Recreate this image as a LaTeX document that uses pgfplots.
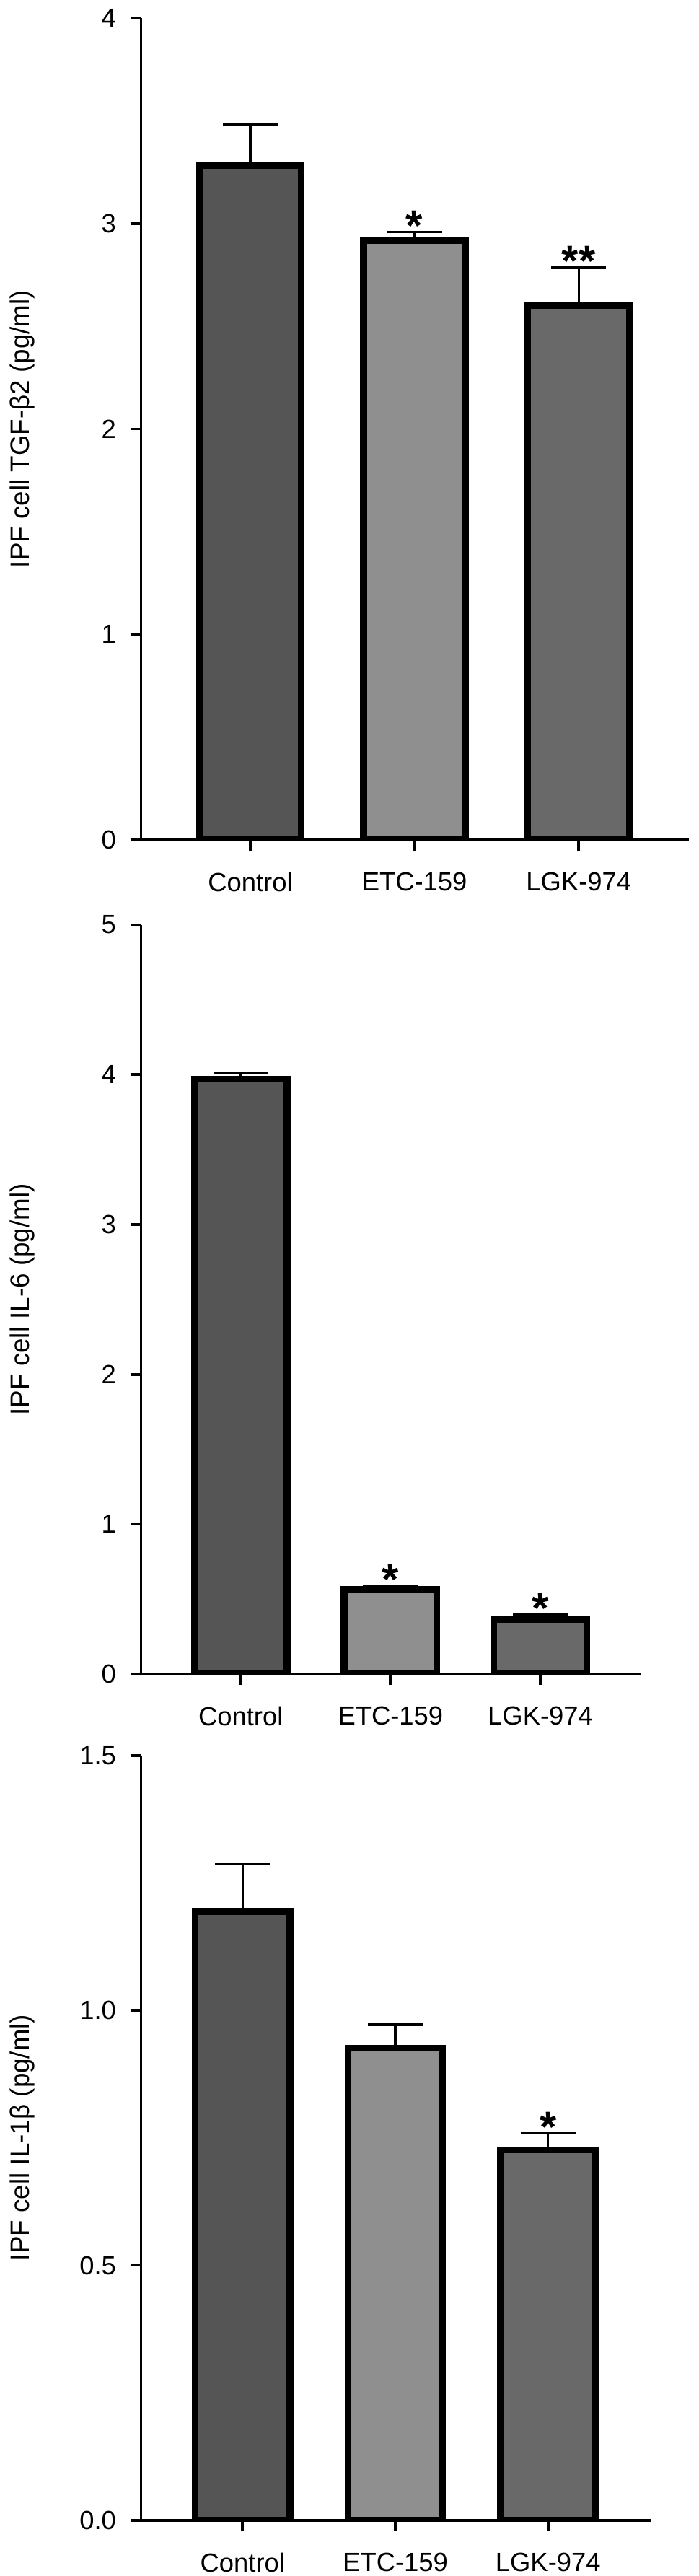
\documentclass[border=0pt]{standalone}
\usepackage{fontspec}
\setmainfont{Liberation Sans}
\usepackage{pgfplots}
\pgfplotsset{compat=1.18}

\definecolor{ctrl}{HTML}{555555}
\definecolor{etc}{HTML}{8F8F8F}
\definecolor{lgk}{HTML}{696969}

\pgfplotsset{
  panel/.style={
    scale only axis,
    anchor=south west,
    axis lines*=left,
    axis line style={line width=0.95pt, -},
    tick align=outside,
    major tick length=3.75pt,
    every tick/.style={black, line width=0.95pt},
    xmin=-0.665, xmax=2.67,
    ymin=0,
    xtick={0,1,2},
    xticklabels={Control,ETC-159,LGK-974},
    tick label style={font=\fontsize{9.1}{11}\selectfont},
    /pgf/number format/assume math mode=true,
    xticklabel style={yshift=-4pt},
    yticklabel style={xshift=-1.4pt},
    every axis y label/.style={at={(axis description cs:0,0.5)}, xshift=-38.75pt,
      rotate=90, anchor=base, font=\fontsize{9.2}{11}\selectfont},
    clip mode=individual,
  },
  gbar/.style={ybar, bar width=0.62, bar shift=0pt, draw=black, line width=2.33pt,
    line join=miter, fill=#1,
    error bars/.cd, y dir=plus, y explicit,
    error bar style={line width=0.8pt, black},
    error mark options={rotate=90, black, line width=0.8pt, mark size=9.5pt}},
  stars/.style={only marks, mark=*, mark size=0pt, mark options={draw=none, fill=none},
    nodes near coords, point meta=explicit symbolic,
    nodes near coords style={anchor=base, yshift=-3pt, inner sep=0pt,
      font=\fontsize{15}{17}\selectfont\bfseries}},
}

\begin{document}
\begin{tikzpicture}
\useasboundingbox (-48.9pt,-601.5pt) rectangle (193.3pt,291pt);

% TGF-beta2
\begin{axis}[panel, at={(0pt,0pt)}, width=189.8pt, height=284.75pt,
  ymax=4, ytick={0,1,2,3,4},
  ylabel={IPF cell TGF-β2 (pg/ml)}]
\addplot[gbar=ctrl] coordinates {(0,3.283) +- (0,0.198)};
\addplot[gbar=etc]  coordinates {(1,2.918) +- (0,0.040)};
\addplot[gbar=lgk]  coordinates {(2,2.600) +- (0,0.185)};
\addplot[stars] coordinates {(1,2.958) [*] (2,2.785) [**]};
\end{axis}

% IL-6
\begin{axis}[panel, at={(0pt,-289pt)}, width=173.15pt, height=259.6pt,
  ymax=5, ytick={0,1,2,3,4,5},
  ylabel={IPF cell IL-6 (pg/ml)}]
\addplot[gbar=ctrl] coordinates {(0,3.970) +- (0,0.045)};
\addplot[gbar=etc]  coordinates {(1,0.565) +- (0,0.025)};
\addplot[gbar=lgk]  coordinates {(2,0.366) +- (0,0.030)};
\addplot[stars] coordinates {(1,0.590) [*] (2,0.396) [*]};
\end{axis}

% IL-1beta
\begin{axis}[panel, at={(0pt,-582.2pt)}, width=176.5pt, height=265pt,
  ymax=1.5, ytick={0,0.5,1,1.5},
  yticklabel style={/pgf/number format/.cd, fixed, fixed zerofill, precision=1},
  ylabel={IPF cell IL-1β (pg/ml)}]
\addplot[gbar=ctrl] coordinates {(0,1.194) +- (0,0.093)};
\addplot[gbar=etc]  coordinates {(1,0.926) +- (0,0.046)};
\addplot[gbar=lgk]  coordinates {(2,0.726) +- (0,0.033)};
\addplot[stars] coordinates {(2,0.759) [*]};
\end{axis}
\end{tikzpicture}
\end{document}
